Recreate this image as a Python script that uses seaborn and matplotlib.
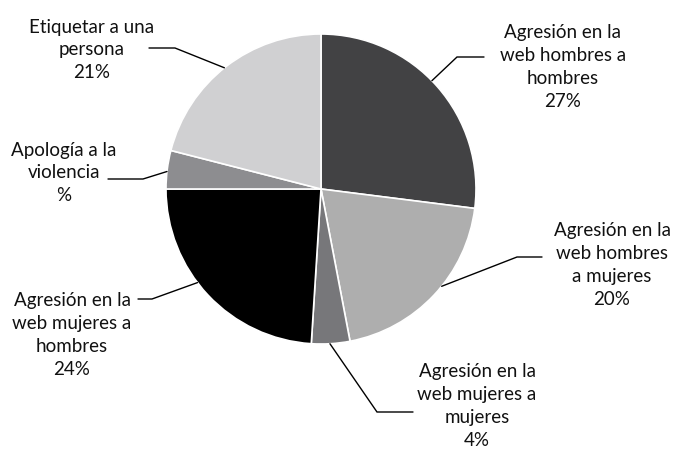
import numpy as np
import matplotlib
matplotlib.use("Agg")
import matplotlib.pyplot as plt
import seaborn as sns

categories = ["Agresión en la\nweb hombres a\nhombres",
              "Agresión en la\nweb hombres\na mujeres",
              "Agresión en la\nweb mujeres a\nmujeres",
              "Agresión en la\nweb mujeres a\nhombres",
              "Apología a la\nviolencia",
              "Etiquetar a una\npersona"]
values = [27, 20, 4, 24, 4, 21]
pct_labels = ["27%", "20%", "4%", "24%", "%", "21%"]
colors = ["#424244", "#aeaeae", "#77777a", "#000000", "#8d8d90", "#d0d0d2"]

sns.set_theme(style="white")
plt.rcParams['font.family'] = ['Lato', 'DejaVu Sans']

W, H = 676, 452
fig = plt.figure(figsize=(W / 100, H / 100), dpi=100)
ax = fig.add_axes([0, 0, 1, 1])

cx, cy, r = 321, H - 190, 155
wedges, _ = ax.pie(values, colors=colors, startangle=90, counterclock=False,
                   center=(cx, cy), radius=r, frame=True,
                   wedgeprops=dict(edgecolor="white", linewidth=1.2))
ax.set_xlim(0, W)
ax.set_ylim(0, H)
ax.axis("off")

# layout: text center (px, top-down), elbow point, horizontal end, anchor fraction
layout = [
    ((563, 67), (457, 58), (484, 58), 0.47),
    ((612, 265), (517, 258), (542, 258), 0.44),
    ((477, 406), (377, 413), (413, 413), 0.52),
    ((72, 335), (152, 300), (138, 300), 0.57),
    ((64, 173), (143, 180), (108, 180), 0.45),
    ((92, 50), (175, 49), (149, 49), 0.49),
]

for w, cat, pct, (tpos, elbow, end, frac) in zip(wedges, categories, pct_labels, layout):
    # counterclock=False: theta2 is the start, theta1 the end (clockwise)
    ang = np.deg2rad(w.theta2 + (w.theta1 - w.theta2) * frac)
    px = cx + r * np.cos(ang)
    py = cy + r * np.sin(ang)
    ex, ey = elbow[0], H - elbow[1]
    hx = end[0]
    ax.plot([px, ex, hx], [py, ey, ey], color="black", lw=1.0,
            solid_joinstyle="miter")
    ax.text(tpos[0], H - tpos[1], cat + "\n" + pct, ha="center", va="center",
            fontsize=13.5, linespacing=1.42, color="#111111")

fig.savefig("out.png", dpi=100)
